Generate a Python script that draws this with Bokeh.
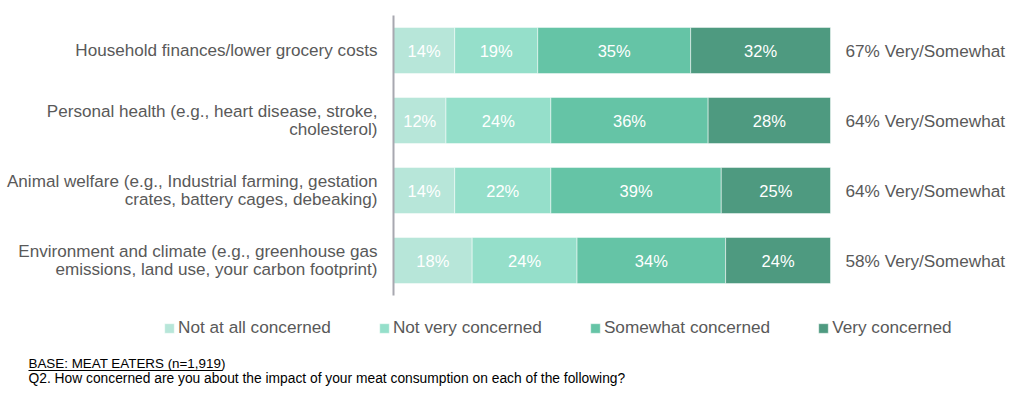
from bokeh.plotting import figure
from bokeh.models import ColumnDataSource, Range1d, Legend, LegendItem
from bokeh.core.properties import value
from bokeh.embed import file_html
from bokeh.resources import INLINE

# ---- data -------------------------------------------------------------
categories = [
    "Household finances/lower grocery costs",
    "Personal health (e.g., heart disease, stroke,\ncholesterol)",
    "Animal welfare (e.g., Industrial farming, gestation\ncrates, battery cages, debeaking)",
    "Environment and climate (e.g., greenhouse gas\nemissions, land use, your carbon footprint)",
]
not_at_all = [14, 12, 14, 18]
not_very = [19, 24, 22, 24]
somewhat = [35, 36, 39, 34]
very = [32, 28, 25, 24]

series = ["not_at_all", "not_very", "somewhat", "very"]
series_labels = ["Not at all concerned", "Not very concerned",
                 "Somewhat concerned", "Very concerned"]
colors = ["#b7e6d9", "#95dfca", "#65c4a6", "#4e9a80"]

base_note = "BASE: MEAT EATERS (n=1,919)"
question = "Q2. How concerned are you about the impact of your meat consumption on each of the following?"

# ---- canvas geometry ----------------------------------------------------
W, H = 1024, 398
BAR_LEFT, BAR_RIGHT = 393, 830          # pixel span of 0..100 %
ROW0_CENTER, ROW_STEP = 50, 70          # pixel centre of first row, row pitch
PX_PER_PCT = (BAR_RIGHT - BAR_LEFT) / 100.0

x_start = -BAR_LEFT / PX_PER_PCT
x_end = 100 + (W - BAR_RIGHT) / PX_PER_PCT
y_bottom = (H - ROW0_CENTER) / ROW_STEP
y_top = -ROW0_CENTER / ROW_STEP


def sx(px):
    return x_start + px / PX_PER_PCT


def sy(py):
    return (py - ROW0_CENTER) / ROW_STEP


FONT_NAME = "Liberation Sans"
FONT = value(FONT_NAME)
GREY = "#595959"

rows = list(range(len(categories)))
data = dict(row=rows, not_at_all=not_at_all, not_very=not_very,
            somewhat=somewhat, very=very)
source = ColumnDataSource(data)

p = figure(width=W, height=H, output_backend="svg", toolbar_location=None,
           x_range=Range1d(x_start, x_end), y_range=Range1d(y_bottom, y_top),
           x_axis_type=None, y_axis_type=None, min_border=0,
           outline_line_color=None, background_fill_color="white")
p.grid.visible = False

bars = p.hbar_stack(series, y="row", height=0.66, color=colors,
                    line_color="white", line_width=0.5, source=source)

# value labels centred in each segment
lx, ly, lt = [], [], []
for i in rows:
    left = 0
    for s in series:
        v = data[s][i]
        lx.append(left + v / 2)
        ly.append(i)
        lt.append(f"{v}%")
        left += v
p.text(x=lx, y=ly, text=lt, text_color="white", text_font=FONT,
       text_font_size="16.5px", text_align="center", text_baseline="middle")

# vertical category axis line
p.segment(x0=[0], y0=[-0.5], x1=[0], y1=[len(categories) - 0.5],
          line_color="#a8a8b0", line_width=2)

# category labels
p.text(x=[0] * len(categories), y=rows, text=categories, x_offset=-16,
       text_color=GREY, text_font=FONT, text_font_size="17.1px",
       text_align="right", text_baseline="middle", text_line_height=0.95)

# Very + Somewhat totals
totals = [f"{v + s}% Very/Somewhat" for v, s in zip(very, somewhat)]
p.text(x=[100] * len(categories), y=rows, text=totals, x_offset=15,
       text_color=GREY, text_font=FONT, text_font_size="17.2px",
       text_align="left", text_baseline="middle")

# legend
legend = Legend(items=[LegendItem(label=l, renderers=[r])
                       for l, r in zip(series_labels, bars)],
                orientation="horizontal", location=(163, 60),
                glyph_width=12, glyph_height=12, label_height=20,
                label_standoff=3, spacing=47, padding=0, margin=0,
                border_line_color=None, background_fill_alpha=0,
                label_text_font=FONT_NAME, label_text_font_size="17.2px",
                label_text_color=GREY)
p.add_layout(legend, "center")

# footnotes
p.text(x=[sx(28)], y=[sy(363)], text=[base_note], text_color="black",
       text_font=FONT, text_font_size="13.4px", text_align="left",
       text_baseline="middle")
p.segment(x0=[sx(28)], y0=[sy(370)], x1=[sx(222)], y1=[sy(370)],
          line_color="black", line_width=1)
p.text(x=[sx(28)], y=[sy(378)], text=[question], text_color="black",
       text_font=FONT, text_font_size="13.8px", text_align="left",
       text_baseline="middle")

open("out.html", "w").write(file_html(p, INLINE))
